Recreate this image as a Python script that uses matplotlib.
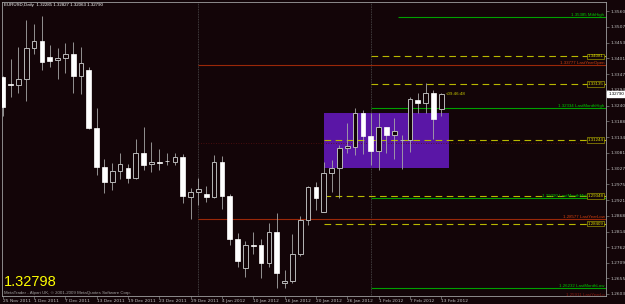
import matplotlib
matplotlib.use('Agg')
import matplotlib.pyplot as plt
from matplotlib.patches import Rectangle
import matplotlib.transforms as mtransforms
import numpy as np
import pandas as pd

# daily EURUSD bars, 25 Nov 2011 .. 13 Feb 2012
dates = pd.bdate_range('2011-11-25', '2012-02-13')
opens = [1.3338, 1.3313, 1.3311, 1.3331, 1.3436, 1.3460, 1.3405, 1.3396, 1.3402, 1.3416,
         1.3341, 1.3361, 1.3165, 1.3033, 1.2982, 1.3019, 1.3030, 1.2996, 1.3080, 1.3043,
         1.3050, 1.3053, 1.3050, 1.3067, 1.2931, 1.2948, 1.2942, 1.2931, 1.3050, 1.2935,
         1.2789, 1.2691, 1.2768, 1.2769, 1.2708, 1.2813, 1.2640, 1.2647, 1.2738, 1.2854,
         1.2966, 1.2881, 1.3013, 1.3030, 1.3097, 1.3101, 1.3216, 1.3138, 1.3087, 1.3168,
         1.3142, 1.3124, 1.3124, 1.3260, 1.3250, 1.3284, 1.32285]
highs = [1.3341, 1.3399, 1.3439, 1.3531, 1.3517, 1.3544, 1.3447, 1.3437, 1.3453, 1.3456,
         1.3440, 1.3372, 1.3232, 1.3060, 1.3047, 1.3080, 1.3043, 1.3128, 1.3170, 1.3118,
         1.3094, 1.3080, 1.3080, 1.3077, 1.2962, 1.2996, 1.2969, 1.3074, 1.3070, 1.2942,
         1.2810, 1.2782, 1.2813, 1.2789, 1.2843, 1.2877, 1.2684, 1.2806, 1.2867, 1.2969,
         1.2982, 1.3050, 1.3057, 1.3107, 1.3182, 1.3233, 1.3226, 1.3216, 1.3216, 1.3170,
         1.3199, 1.3141, 1.3270, 1.3283, 1.3317, 1.3294, 1.32827]
lows = [1.3206, 1.3270, 1.3284, 1.3258, 1.3416, 1.3361, 1.3370, 1.3331, 1.3351, 1.3283,
        1.3280, 1.3162, 1.3006, 1.2945, 1.2955, 1.2992, 1.2979, 1.2992, 1.3023, 1.3016,
        1.3023, 1.3040, 1.3040, 1.2911, 1.2857, 1.2904, 1.2914, 1.2928, 1.2890, 1.2769,
        1.2694, 1.2660, 1.2738, 1.2657, 1.2694, 1.2623, 1.2623, 1.2640, 1.2732, 1.2837,
        1.2887, 1.2881, 1.2948, 1.2928, 1.3080, 1.3074, 1.3077, 1.3040, 1.3023, 1.3080,
        1.3060, 1.3026, 1.3084, 1.3216, 1.3216, 1.3128, 1.32063]
closes = [1.3236, 1.3311, 1.3331, 1.3436, 1.3460, 1.3389, 1.3393, 1.3402, 1.3416, 1.3341,
          1.3385, 1.3165, 1.3033, 1.2982, 1.3019, 1.3043, 1.2996, 1.3080, 1.3040, 1.3050,
          1.3047, 1.3052, 1.3067, 1.2935, 1.2948, 1.2958, 1.2931, 1.3050, 1.2935, 1.2789,
          1.2715, 1.2769, 1.2767, 1.2708, 1.2813, 1.2674, 1.2647, 1.2738, 1.2854, 1.2966,
          1.2928, 1.3013, 1.3030, 1.3097, 1.3104, 1.3216, 1.3138, 1.3087, 1.3168, 1.3141,
          1.3155, 1.3125, 1.3263, 1.3250, 1.3284, 1.3195, 1.32790]

# right price scale
price_ticks = [1.35600, 1.35075, 1.34535, 1.34010, 1.33470, 1.32945, 1.32405, 1.31880,
               1.31340, 1.30815, 1.30275, 1.29750, 1.29210, 1.28685, 1.28145, 1.27620,
               1.27095, 1.26555, 1.26030]

# indicator levels: price, label, colour kind, first bar, label shift (bars)
level_prices = [1.35398, 1.34081, 1.33777, 1.33135, 1.32334, 1.31244, 1.29348, 1.29290,
                1.28577, 1.28409, 1.26232]
level_labels = ['1.35385 MthHigh', '1.34081', '1.33777 LastYearOpen', '1.33135',
                '1.32334 LastMonthHigh', '1.31244', '1.29348', '1.29290 LastMonthMid',
                '1.28577 LastYearLow', '1.28409', '1.26232 LastMonthLow']
level_kinds = ['green', 'pivot', 'red', 'pivot', 'green', 'pivot', 'pivot', 'green',
               'red', 'pivot', 'green']
level_start = [50.5, 47, 25, 47, 47, 41, 41, 47, 25, 41, 47]
level_shift = [0, 0, 0, 0, 0, 0, 0, 2.3, 0, 0, 0]

# faint dotted line and partly hidden label at the bottom
dot_price = 1.3114
bottom_label = '1.25911 LastYearLo'
bottom_price = 1.2601

# box object
box_left, box_right = 41, 57
box_low, box_high = 1.3030, 1.3216

separators = [25, 47]
last_price = 1.32798

BG = '#130508'
FG = '#c0c0c0'
COLORS = {'green': '#00a000', 'pivot': '#b8b800', 'red': '#9a2808'}
TXT = {'green': '#00c800', 'pivot': '#d8d800', 'red': '#d04010'}

W, H = 625, 304
fig = plt.figure(figsize=(W / 100, H / 100), dpi=100, facecolor=BG)
ax = fig.add_axes([1.7 / W, (H - 295.5) / H, (606 - 1.7) / W, (295.5 - 1.7) / H])
ax.set_facecolor(BG)

px = 7.83  # pixels per bar
x0 = (1.7 - 2.7) / px
x1 = (606 - 2.7) / px
ax.set_xlim(x0, x1)
ax.set_ylim(1.25978, 1.35926)

plt.rcParams['font.family'] = ['Liberation Sans', 'DejaVu Sans']
fs = 3.2

# box
ax.add_patch(Rectangle((box_left, box_low), box_right - box_left, box_high - box_low,
                       facecolor='#5a16a6', edgecolor='none', zorder=1))

# separators
for s in separators:
    ax.axvline(s, color='#505050', lw=0.6, ls=(0, (1, 1)), zorder=1)

ax.hlines(dot_price, separators[0], x1, color='#5a1010', lw=0.6, ls=(0, (1, 2)), zorder=1)

# levels
for p, lab, k, st, sh in zip(level_prices, level_labels, level_kinds, level_start, level_shift):
    ls = (0, (6, 4)) if k == 'pivot' else '-'
    ax.hlines(p, st, x1, color=COLORS[k], lw=0.8, ls=ls, zorder=2)
    if k == 'pivot':
        ax.text(x1 - 0.35, p, lab, color=TXT[k], fontsize=fs, ha='right', va='center',
                zorder=5, bbox=dict(boxstyle='square,pad=0.15', facecolor=BG,
                                    edgecolor=COLORS[k], lw=0.4))
    else:
        ax.text(x1 - 0.2 - sh, p, lab, color=TXT[k], fontsize=fs, ha='right',
                va='bottom', zorder=5)

ax.text(x1 - 0.2, bottom_price, bottom_label, color='#8a1a10', fontsize=fs, ha='right',
        va='center', zorder=5)

# candles
bw = 0.6
for i, (o, h, l, c) in enumerate(zip(opens, highs, lows, closes)):
    ax.vlines(i, l, h, color='#a8a8a8', lw=0.6, zorder=3)
    lo, hi = min(o, c), max(o, c)
    if c < o:
        ax.add_patch(Rectangle((i - bw / 2, lo), bw, max(hi - lo, 0.00015),
                               facecolor='white', edgecolor='white', lw=0.5, zorder=4))
    else:
        ax.add_patch(Rectangle((i - bw / 2, lo), bw, max(hi - lo, 0.00015),
                               facecolor=BG, edgecolor='#b8b8b8', lw=0.7, zorder=4))

# countdown label next to last bar
ax.text(len(opens) - 0.4, closes[-1], '<09:46:48', color='#c8c800', fontsize=fs,
        ha='left', va='center', zorder=5)

# axes styling
for sp in ax.spines.values():
    sp.set_color('#a0a0a0')
    sp.set_linewidth(0.6)

ax.yaxis.tick_right()
ax.set_yticks(price_ticks)
ax.set_yticklabels(['%.5f' % v for v in price_ticks])
ax.tick_params(axis='y', colors='#808080', labelcolor=FG, labelsize=fs, length=2,
               width=0.5, pad=1)

tick_idx = list(range(0, len(dates), 4))
ax.set_xticks(tick_idx)
ax.set_xticklabels([dates[i].strftime('%-d %b %Y') for i in tick_idx], ha='left')
ax.tick_params(axis='x', colors='#808080', labelcolor=FG, labelsize=fs, length=2,
               width=0.5, pad=0.5)

# current price marker on the scale
tr = mtransforms.blended_transform_factory(ax.transAxes, ax.transData)
ax.text(1.004, last_price, '%.5f' % closes[-1], transform=tr, fontsize=fs, color='black',
        ha='left', va='center', zorder=6,
        bbox=dict(boxstyle='square,pad=0.25', facecolor='white', edgecolor='white'),
        clip_on=False)

# header and footer texts
ax.text(0.003, 0.995, 'EURUSD,Daily  1.32285 1.32827 1.32063 1.32790', transform=ax.transAxes,
        fontsize=fs, color='white', ha='left', va='top')
ax.text(0.003, 0.022, '%.5f' % last_price, transform=ax.transAxes, fontsize=10.5,
        color='#ffff00', ha='left', va='bottom')
ax.text(0.003, 0.002, 'MetaTrader - Alpari UK, \u00a9 2001-2009 MetaQuotes Software Corp.',
        transform=ax.transAxes, fontsize=fs, color='#a0a0a0', ha='left', va='bottom')

fig.savefig('out.png', dpi=100, facecolor=BG)
